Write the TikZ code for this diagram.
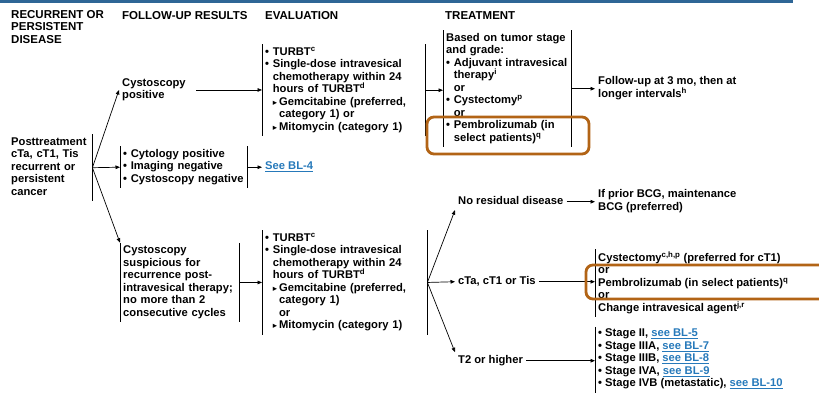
\documentclass[tikz,border=0pt]{standalone}
\usepackage{fontspec}
\setmainfont{Liberation Sans}
\newfontfamily\trifont{DejaVu Sans}
\usetikzlibrary{arrows.meta}

\definecolor{ruleblue}{RGB}{46,102,150}
\definecolor{linkblue}{RGB}{38,121,186}
\definecolor{flagbrown}{RGB}{178,100,22}

\newcommand{\mainfnt}{\fontsize{11.2}{12.5}\selectfont\bfseries}
\newcommand{\headfnt}{\fontsize{11.5}{12.5}\selectfont\bfseries}
\newcommand{\itm}{\textbullet\ }
\newcommand{\ind}{\hphantom{\textbullet\ }}
\newcommand{\tri}{{\trifont\fontsize{8.5}{8.5}\selectfont ▸}\hspace{2pt}}
\newcommand{\trind}{\hphantom{\tri}}
\newcommand{\lnk}[1]{\textcolor{linkblue}{\underline{#1}}}

\tikzset{
  txt/.style={anchor=north west,align=left,inner xsep=3pt,inner ysep=2pt,font=\mainfnt,
    execute at begin node=\strut,execute at end node=\strut},
  head/.style={txt,font=\headfnt},
  lbar/.style={append after command={(\tikzlastnode.north west) edge[draw,-,line width=0.6pt] (\tikzlastnode.south west)}},
  rbar/.style={append after command={(\tikzlastnode.north east) edge[draw,-,line width=0.6pt] (\tikzlastnode.south east)}},
  conn/.style={->,line width=0.7pt},
  flag/.style={draw=flagbrown,line width=2.8pt,rounded corners=7pt}
}

\begin{document}
\begin{tikzpicture}[x=1pt,y=-1pt,>={Triangle[length=4.5pt,width=3.6pt]}]
\useasboundingbox (0,0) rectangle (819,392);
\draw[ruleblue,line width=3.2pt] (0,1.6) -- (793,1.6);
% column heads
\node[head] (hdis) at (8,8.25) {RECURRENT OR\\PERSISTENT\\DISEASE};
\node[head] (hres) at (119,8.25) {FOLLOW-UP RESULTS};
\node[head] (heva) at (262,8.25) {EVALUATION};
\node[head] (htre) at (442,8.25) {TREATMENT};
% disease
\node[txt,rbar,text width=78pt] (cancer) at (8,134.25) {Posttreatment\\cTa, cT1, Tis\\recurrent or\\persistent\\cancer};
% follow-up results
\node[txt,text width=71pt] (cpos) at (119,75.25) {Cystoscopy\\positive};
\node[txt,lbar,rbar,text width=121pt] (cneg) at (120,146.25) {\itm Cytology positive\\\itm Imaging negative\\\itm Cystoscopy negative};
\node[txt,lbar,rbar,text width=113pt] (csus) at (120,242.75) {Cystoscopy\\suspicious for\\recurrence post-\\intravesical therapy;\\no more than 2\\consecutive cycles};
% evaluation
\node[txt,lbar,rbar,text width=157pt] (eval1) at (262,44.25) {\itm TURBT\textsuperscript{c}\\\itm Single-dose intravesical\\\ind chemotherapy within 24\\\ind hours of TURBT\textsuperscript{d}\\\ind\tri Gemcitabine (preferred,\\\ind\trind category 1) or\\\ind\tri Mitomycin (category 1)};
\node[txt] (bl4) at (262,158.25) {\lnk{See BL-4}};
\node[txt,lbar,rbar,text width=159pt] (eval2) at (262,230.25) {\itm TURBT\textsuperscript{c}\\\itm Single-dose intravesical\\\ind chemotherapy within 24\\\ind hours of TURBT\textsuperscript{d}\\\ind\tri Gemcitabine (preferred,\\\ind\trind category 1)\\\ind\trind or\\\ind\tri Mitomycin (category 1)};
% treatment
\node[txt,lbar,rbar,text width=122pt] (treat1) at (443,30.25) {Based on tumor stage\\and grade:\\\itm Adjuvant intravesical\\\ind therapy\textsuperscript{i}\\\ind or\\\itm Cystectomy\textsuperscript{p}\\\ind or\\\itm Pembrolizumab (in\\\ind select patients)\textsuperscript{q}};
\node[txt] (fup) at (595,74.25) {Follow-up at 3 mo, then at\\longer intervals\textsuperscript{h}};
\node[txt] (nores) at (455,193.25) {No residual disease};
\node[txt] (bcg) at (595,187.25) {If prior BCG, maintenance\\BCG (preferred)};
\node[txt] (cta) at (455,273.25) {cTa, cT1 or Tis};
\node[txt,lbar] (treat2) at (595,249.25) {Cystectomy\textsuperscript{c,h,p} (preferred for cT1)\\or\\Pembrolizumab (in select patients)\textsuperscript{q}\\or\\Change intravesical agent\textsuperscript{j,r}};
\node[txt] (t2) at (455,352.25) {T2 or higher};
\node[txt,lbar] (stage) at (595,326.75) {\itm Stage II, \lnk{see BL-5}\\\itm Stage IIIA, \lnk{see BL-7}\\\itm Stage IIIB, \lnk{see BL-8}\\\itm Stage IVA, \lnk{see BL-9}\\\itm Stage IVB (metastatic), \lnk{see BL-10}};
% connectors
\draw[conn] (cancer.east) -- (cpos.west);
\draw[conn] (cancer.east) -- (cneg.west);
\draw[conn] (cancer.east) -- (csus.north west);
\draw[conn] (cpos.east) -- (cpos.east -| eval1.west);
\draw[conn] (eval1.east) -- (eval1.east -| treat1.west);
\draw[conn] (treat1.east) -- (treat1.east -| fup.west);
\draw[conn] (cneg.east) -- (cneg.east -| bl4.west);
\draw[conn] (csus.east) -- (csus.east -| eval2.west);
\draw[conn] (eval2.east) -- (nores.south west);
\draw[conn] (eval2.east) -- (cta.west);
\draw[conn] (eval2.east) -- (t2.north west);
\draw[conn] (nores.east) -- (nores.east -| bcg.west);
\draw[conn] (cta.east) -- (cta.east -| treat2.west);
\draw[conn] (t2.east) -- (t2.east -| stage.west);
% highlights
\draw[flag] (427,117) rectangle (589,154);
\draw[flag] (586,265) rectangle (835,299);
\end{tikzpicture}
\end{document}
